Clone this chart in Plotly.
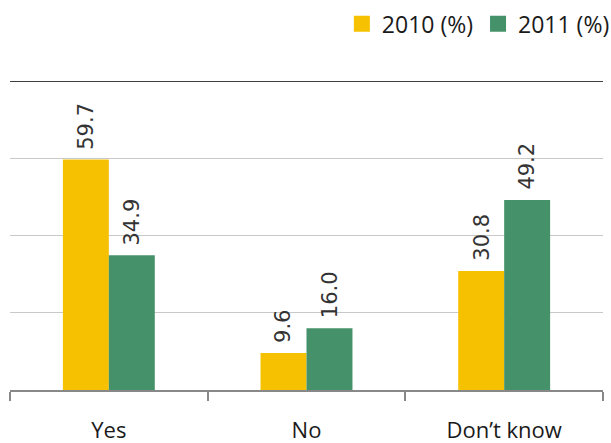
import plotly.graph_objects as go

categories = ["Yes", "No", "Don\u2019t know"]
series_names = ["2010 (%)", "2011 (%)"]
values_2010 = [59.7, 9.6, 30.8]
values_2011 = [34.9, 16.0, 49.2]
colors = ["#F5C100", "#45916A"]

BARGAP = 0.535
PLOT_W = 611 - 10 - 8
cat_w = PLOT_W / len(categories)
bar_w = cat_w * (1 - BARGAP) / 2

fig = go.Figure()
for i, (name, vals, col) in enumerate(zip(series_names, [values_2010, values_2011], colors)):
    fig.add_trace(go.Bar(
        x=categories, y=vals, name=name, showlegend=False,
        marker=dict(color=col, line=dict(width=0)),
    ))
    # square legend swatch
    fig.add_trace(go.Scatter(
        x=[None], y=[None], mode="markers", name=name,
        marker=dict(symbol="square", size=16, color=col),
    ))
    # rotated value labels above each bar
    shift = (i - 0.5) * bar_w
    for cat, v in zip(categories, vals):
        fig.add_annotation(
            x=cat, y=v, xref="x", yref="y", text=f"{v:.1f}", showarrow=False,
            textangle=-90, xanchor="center", yanchor="bottom",
            xshift=shift, yshift=8,
            font=dict(family="DejaVu Sans", size=21, color="#333333"),
        )

fig.update_layout(
    width=611, height=443,
    margin=dict(l=10, r=8, t=81, b=53, autoexpand=False),
    paper_bgcolor="white", plot_bgcolor="white",
    barmode="group", bargap=BARGAP, bargroupgap=0,
    showlegend=True,
    legend=dict(orientation="h", x=1.02, xanchor="right", y=1.185, yanchor="middle",
                font=dict(family="Open Sans", size=23, color="#1a1a1a"),
                itemwidth=30, traceorder="normal", tracegroupgap=0),
    xaxis=dict(showline=True, linecolor="#888888", linewidth=1.5, ticks="outside",
               tickson="boundaries", ticklen=9, tickcolor="#888888", tickwidth=1.5,
               tickfont=dict(family="Open Sans", size=22, color="#1a1a1a"),
               ticklabelstandoff=20, automargin=False, showgrid=False),
    yaxis=dict(range=[0, 80], tickvals=[0, 20, 40, 60, 80], showticklabels=False,
               showgrid=True, gridcolor="#c8c8c8", gridwidth=1.2, zeroline=False,
               showline=False, automargin=False),
)
fig.add_shape(type="line", xref="paper", yref="y", x0=0, x1=1, y0=80, y1=80,
              line=dict(color="black", width=1.5))

fig.write_html("out.html")
